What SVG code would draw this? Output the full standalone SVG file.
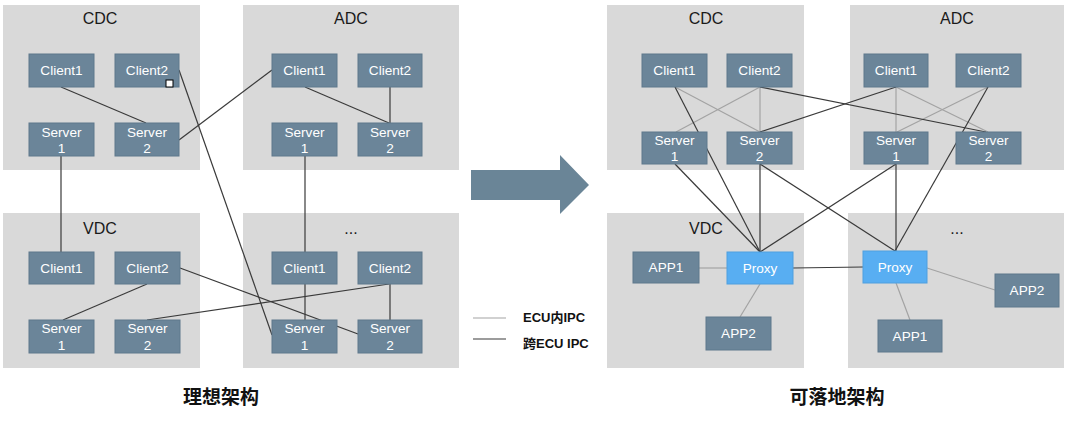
<svg xmlns="http://www.w3.org/2000/svg" width="1073" height="425" viewBox="0 0 1073 425">
<style>
.box{fill:#d9d9d9}
.ttl{font-family:"Liberation Sans",Arial,sans-serif;font-size:16px;fill:#1a1a1a;text-anchor:middle}
.n rect{fill:#6b8599;stroke:#5f788c;stroke-width:1}
.p rect{fill:#58aef2;stroke:#4f9fdf;stroke-width:1}
.n text,.p text{font-family:"Liberation Sans",Arial,sans-serif;font-size:13.6px;fill:#ffffff;text-anchor:middle}
.d{stroke:#3a3a3a;stroke-width:1.2;fill:none}
.l{stroke:#a3a3a3;stroke-width:1.2;fill:none}
.cap{font-family:"Noto Sans CJK SC",sans-serif;font-size:19px;font-weight:bold;fill:#111;text-anchor:middle}
.lg{font-family:"Liberation Sans","Noto Sans CJK SC",sans-serif;font-size:13px;font-weight:bold;fill:#111}
</style>
<rect width="1073" height="425" fill="#ffffff"/>
<g id="containers">
<g id="L-CDC"><rect class="box" x="3" y="5" width="197" height="165"/><text class="ttl" x="100" y="24">CDC</text></g>
<g id="L-ADC"><rect class="box" x="243" y="5" width="216" height="165"/><text class="ttl" x="351" y="24">ADC</text></g>
<g id="L-VDC"><rect class="box" x="3" y="213" width="197" height="155"/><text class="ttl" x="100" y="234">VDC</text></g>
<g id="L-ETC"><rect class="box" x="243" y="213" width="216" height="155"/><text class="ttl" x="351" y="234">...</text></g>
<g id="R-CDC"><rect class="box" x="607" y="5" width="197" height="165"/><text class="ttl" x="706" y="24">CDC</text></g>
<g id="R-ADC"><rect class="box" x="850" y="5" width="214" height="165"/><text class="ttl" x="957" y="24">ADC</text></g>
<g id="R-VDC"><rect class="box" x="607" y="213" width="197" height="155"/><text class="ttl" x="706" y="234">VDC</text></g>
<g id="R-ETC"><rect class="box" x="848" y="213" width="216" height="155"/><text class="ttl" x="957" y="234">...</text></g>
</g>
<g id="connectors">
<line class="d" x1="61" y1="87" x2="146" y2="123"/>
<line class="d" x1="179" y1="140" x2="272" y2="70"/>
<line class="d" x1="179" y1="70" x2="272" y2="335"/>
<line class="d" x1="61" y1="156" x2="61" y2="252"/>
<line class="d" x1="305" y1="87" x2="389" y2="123"/>
<line class="d" x1="390" y1="87" x2="390" y2="123"/>
<line class="d" x1="305" y1="156" x2="305" y2="252"/>
<line class="d" x1="305" y1="284" x2="305" y2="320"/>
<line class="d" x1="390" y1="284" x2="390" y2="320"/>
<line class="d" x1="180" y1="268" x2="358" y2="334"/>
<line class="d" x1="147" y1="284" x2="63" y2="320"/>
<line class="d" x1="147" y1="320" x2="389" y2="284"/>
<line class="l" x1="675" y1="87" x2="760" y2="132"/>
<line class="l" x1="760" y1="87" x2="676" y2="132"/>
<line class="l" x1="760" y1="87" x2="760" y2="132"/>
<line class="l" x1="896" y1="87" x2="896" y2="132"/>
<line class="l" x1="896" y1="87" x2="988" y2="132"/>
<line class="l" x1="988" y1="87" x2="897" y2="132"/>
<line class="l" x1="699" y1="268" x2="727" y2="268"/>
<line class="l" x1="760" y1="284" x2="740" y2="317"/>
<line class="l" x1="927" y1="268" x2="995" y2="290"/>
<line class="l" x1="896" y1="283" x2="910" y2="320"/>
<line class="d" x1="675" y1="87" x2="760" y2="252"/>
<line class="d" x1="760" y1="87" x2="986" y2="132"/>
<line class="d" x1="760" y1="132" x2="896" y2="87"/>
<line class="d" x1="675" y1="164" x2="760" y2="252"/>
<line class="d" x1="760" y1="164" x2="760" y2="252"/>
<line class="d" x1="760" y1="164" x2="895" y2="251"/>
<line class="d" x1="988" y1="87" x2="895" y2="251"/>
<line class="d" x1="896" y1="164" x2="760" y2="252"/>
<line class="d" x1="896" y1="164" x2="896" y2="251"/>
<line class="d" x1="793" y1="268" x2="863" y2="267"/>
</g>
<g id="nodes">
<g id="L-CDC-Client1" class="n"><rect x="29" y="54" width="65" height="33"/><text x="61.5" y="75">Client1</text></g>
<g id="L-CDC-Client2" class="n"><rect x="115" y="54" width="64" height="33"/><text x="147" y="75">Client2</text></g>
<g id="L-CDC-Server1" class="n"><rect x="29" y="123" width="65" height="33"/><text x="61.5" y="137">Server</text><text x="61.5" y="153">1</text></g>
<g id="L-CDC-Server2" class="n"><rect x="115" y="123" width="64" height="33"/><text x="147" y="137">Server</text><text x="147" y="153">2</text></g>
<g id="handle"><rect x="166" y="80" width="7" height="7" fill="#ffffff" stroke="#000000" stroke-width="1"/></g>
<g id="L-ADC-Client1" class="n"><rect x="272" y="54" width="65" height="33"/><text x="304.5" y="75">Client1</text></g>
<g id="L-ADC-Client2" class="n"><rect x="358" y="54" width="64" height="33"/><text x="390" y="75">Client2</text></g>
<g id="L-ADC-Server1" class="n"><rect x="272" y="123" width="65" height="33"/><text x="304.5" y="137">Server</text><text x="304.5" y="153">1</text></g>
<g id="L-ADC-Server2" class="n"><rect x="358" y="123" width="64" height="33"/><text x="390" y="137">Server</text><text x="390" y="153">2</text></g>
<g id="L-VDC-Client1" class="n"><rect x="29" y="252" width="65" height="32"/><text x="61.5" y="273">Client1</text></g>
<g id="L-VDC-Client2" class="n"><rect x="115" y="252" width="65" height="32"/><text x="147.5" y="273">Client2</text></g>
<g id="L-VDC-Server1" class="n"><rect x="29" y="320" width="65" height="33"/><text x="61.5" y="333">Server</text><text x="61.5" y="350">1</text></g>
<g id="L-VDC-Server2" class="n"><rect x="115" y="320" width="65" height="33"/><text x="147.5" y="333">Server</text><text x="147.5" y="350">2</text></g>
<g id="L-ETC-Client1" class="n"><rect x="272" y="252" width="65" height="32"/><text x="304.5" y="273">Client1</text></g>
<g id="L-ETC-Client2" class="n"><rect x="358" y="252" width="64" height="32"/><text x="390" y="273">Client2</text></g>
<g id="L-ETC-Server1" class="n"><rect x="272" y="320" width="65" height="33"/><text x="304.5" y="333">Server</text><text x="304.5" y="350">1</text></g>
<g id="L-ETC-Server2" class="n"><rect x="358" y="320" width="64" height="33"/><text x="390" y="333">Server</text><text x="390" y="350">2</text></g>
<g id="R-CDC-Client1" class="n"><rect x="642" y="54" width="65" height="33"/><text x="674.5" y="75">Client1</text></g>
<g id="R-CDC-Client2" class="n"><rect x="727" y="54" width="65" height="33"/><text x="759.5" y="75">Client2</text></g>
<g id="R-CDC-Server1" class="n"><rect x="642" y="132" width="65" height="32"/><text x="674.5" y="145">Server</text><text x="674.5" y="161">1</text></g>
<g id="R-CDC-Server2" class="n"><rect x="727" y="132" width="65" height="32"/><text x="759.5" y="145">Server</text><text x="759.5" y="161">2</text></g>
<g id="R-ADC-Client1" class="n"><rect x="864" y="54" width="64" height="33"/><text x="896" y="75">Client1</text></g>
<g id="R-ADC-Client2" class="n"><rect x="956" y="54" width="65" height="33"/><text x="988.5" y="75">Client2</text></g>
<g id="R-ADC-Server1" class="n"><rect x="864" y="132" width="64" height="32"/><text x="896" y="145">Server</text><text x="896" y="161">1</text></g>
<g id="R-ADC-Server2" class="n"><rect x="956" y="132" width="65" height="32"/><text x="988.5" y="145">Server</text><text x="988.5" y="161">2</text></g>
<g id="R-VDC-APP1" class="n"><rect x="633" y="252" width="66" height="31"/><text x="666" y="272">APP1</text></g>
<g id="R-VDC-Proxy" class="p"><rect x="727" y="252" width="66" height="32"/><text x="760" y="273">Proxy</text></g>
<g id="R-VDC-APP2" class="n"><rect x="706" y="317" width="65" height="33"/><text x="738.5" y="338">APP2</text></g>
<g id="R-ETC-Proxy" class="p"><rect x="863" y="251" width="64" height="32"/><text x="895" y="272">Proxy</text></g>
<g id="R-ETC-APP2" class="n"><rect x="995" y="274" width="64" height="33"/><text x="1027" y="295">APP2</text></g>
<g id="R-ETC-APP1" class="n"><rect x="878" y="320" width="64" height="32"/><text x="910" y="341">APP1</text></g>
</g>
<g id="big-arrow"><polygon points="471,170 560,170 560,155 589,185 560,214 560,200 471,200" fill="#6a8597"/></g>
<g id="legend">
<line x1="473" y1="318" x2="506" y2="318" stroke="#a3a3a3" stroke-width="1.2"/>
<text class="lg" x="523" y="322">ECU内IPC</text>
<line x1="473" y1="339" x2="506" y2="339" stroke="#3a3a3a" stroke-width="1.2"/>
<text class="lg" x="523" y="348">跨ECU IPC</text>
</g>
<g id="captions">
<text class="cap" x="221" y="404">理想架构</text>
<text class="cap" x="837" y="404">可落地架构</text>
</g>
</svg>
